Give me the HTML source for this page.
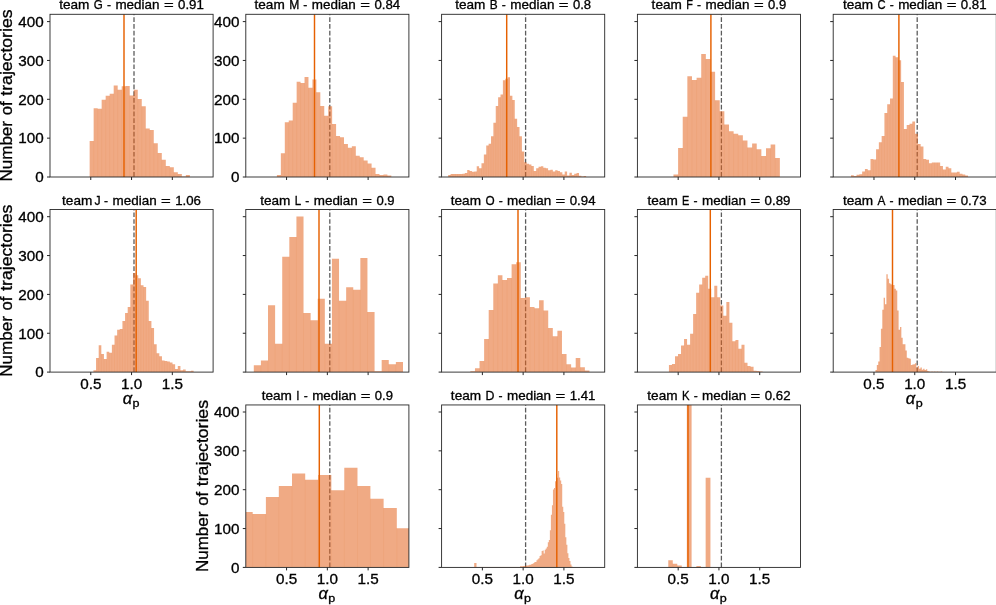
<!DOCTYPE html>
<html><head><meta charset="utf-8"><title>histograms</title>
<style>
html,body{margin:0;padding:0;background:#fff;}
body{width:996px;height:605px;overflow:hidden;font-family:"Liberation Sans",sans-serif;}
svg{display:block;will-change:transform;opacity:0.999;}
svg text{font-family:"Liberation Sans",sans-serif;fill:#000;stroke:#000;stroke-width:0.3px;}
</style></head><body>
<svg width="996" height="605" viewBox="0 0 996 605">
<rect width="996" height="605" fill="#fff"/>
<g id="pG">
<clipPath id="cG"><rect x="50.00" y="14.30" width="163.10" height="162.70"/></clipPath>
<g clip-path="url(#cG)">
<line x1="134.00" x2="134.00" y1="177.00" y2="14.30" stroke="#5c5c5c" stroke-width="1.3" stroke-dasharray="4.7 2.03" stroke-dashoffset="-0.2"/>
<path d="M89.64 177.00V140.91H93.65V177.00ZM93.65 177.00V108.18H97.65V177.00ZM97.65 177.00V108.73H101.66V177.00ZM101.66 177.00V99.64H105.67V177.00ZM105.67 177.00V95.82H109.68V177.00ZM109.68 177.00V93.64H113.69V177.00ZM113.69 177.00V85.45H117.70V177.00ZM117.70 177.00V89.64H121.71V177.00ZM121.71 177.00V86.36H125.72V177.00ZM125.72 177.00V86.00H129.73V177.00ZM129.73 177.00V95.45H133.74V177.00ZM133.74 177.00V89.64H137.75V177.00ZM137.75 177.00V99.09H141.75V177.00ZM141.75 177.00V106.36H145.76V177.00ZM145.76 177.00V128.55H149.77V177.00ZM149.77 177.00V130.00H153.78V177.00ZM153.78 177.00V143.27H157.79V177.00ZM157.79 177.00V153.09H161.80V177.00ZM161.80 177.00V159.82H165.81V177.00ZM165.81 177.00V166.00H169.82V177.00ZM169.82 177.00V167.27H173.83V177.00ZM173.83 177.00V172.18H177.84V177.00ZM177.84 177.00V174.00H181.85V177.00ZM181.85 177.00V176.55H185.85V177.00ZM185.85 177.00V175.09H189.86V177.00Z" fill="#e4641f" fill-opacity="0.55"/>
<path d="M93.65 177.00V140.91M97.65 177.00V108.73M101.66 177.00V108.73M105.67 177.00V99.64M109.68 177.00V95.82M113.69 177.00V93.64M117.70 177.00V89.64M121.71 177.00V89.64M125.72 177.00V86.36M129.73 177.00V95.45M133.74 177.00V95.45M137.75 177.00V99.09M141.75 177.00V106.36M145.76 177.00V128.55M149.77 177.00V130.00M153.78 177.00V143.27M157.79 177.00V153.09M161.80 177.00V159.82M165.81 177.00V166.00M169.82 177.00V167.27M173.83 177.00V172.18M177.84 177.00V174.00" stroke="#e66101" stroke-opacity="0.09" stroke-width="0.7" fill="none"/>
<line x1="124.00" x2="124.00" y1="14.30" y2="177.00" stroke="#e66101" stroke-width="1.45"/>
</g>
<rect x="50.00" y="14.30" width="163.10" height="162.70" fill="none" stroke="#262626" stroke-width="0.9"/>
<path d="M90.78 177.00v3M131.55 177.00v3M172.32 177.00v3M50.00 177.00h-3M50.00 138.15h-3M50.00 99.30h-3M50.00 60.45h-3M50.00 21.60h-3" stroke="#262626" stroke-width="1" fill="none"/>
<text transform="translate(131.55 9.05)" font-size="12.15"><tspan x="-72.34" textLength="30.23" lengthAdjust="spacingAndGlyphs">team</tspan><tspan x="-37.70" textLength="9.00" lengthAdjust="spacingAndGlyphs">G</tspan><tspan x="-24.59" textLength="4.03" lengthAdjust="spacingAndGlyphs">-</tspan><tspan x="-16.14" textLength="44.08" lengthAdjust="spacingAndGlyphs">median</tspan><tspan x="32.36" textLength="9.75" lengthAdjust="spacingAndGlyphs">=</tspan><tspan x="46.52" textLength="25.82" lengthAdjust="spacingAndGlyphs">0.91</tspan></text>
<text x="43.70" y="182.30" font-size="14.0" text-anchor="end" textLength="8.48" lengthAdjust="spacingAndGlyphs">0</text>
<text x="43.70" y="143.45" font-size="14.0" text-anchor="end" textLength="25.44" lengthAdjust="spacingAndGlyphs">100</text>
<text x="43.70" y="104.60" font-size="14.0" text-anchor="end" textLength="25.44" lengthAdjust="spacingAndGlyphs">200</text>
<text x="43.70" y="65.75" font-size="14.0" text-anchor="end" textLength="25.44" lengthAdjust="spacingAndGlyphs">300</text>
<text x="43.70" y="26.90" font-size="14.0" text-anchor="end" textLength="25.44" lengthAdjust="spacingAndGlyphs">400</text>
<text transform="translate(12.10 95.55) rotate(-90)" font-size="15.7"><tspan x="-86.03" textLength="60.56" lengthAdjust="spacingAndGlyphs">Number</tspan><tspan x="-19.71" textLength="13.85" lengthAdjust="spacingAndGlyphs">of</tspan><tspan x="-0.10" textLength="86.13" lengthAdjust="spacingAndGlyphs">trajectories</tspan></text>
</g>
<g id="pM">
<clipPath id="cM"><rect x="245.80" y="14.30" width="163.10" height="162.70"/></clipPath>
<g clip-path="url(#cM)">
<line x1="329.80" x2="329.80" y1="177.00" y2="14.30" stroke="#5c5c5c" stroke-width="1.3" stroke-dasharray="4.7 2.03" stroke-dashoffset="-0.2"/>
<path d="M276.91 177.00V174.91H280.85V177.00ZM280.85 177.00V153.27H284.80V177.00ZM284.80 177.00V122.36H288.75V177.00ZM288.75 177.00V120.55H292.69V177.00ZM292.69 177.00V102.73H296.64V177.00ZM296.64 177.00V81.82H300.58V177.00ZM300.58 177.00V83.09H304.53V177.00ZM304.53 177.00V76.91H308.47V177.00ZM308.47 177.00V87.82H312.42V177.00ZM312.42 177.00V79.45H316.36V177.00ZM316.36 177.00V92.18H320.31V177.00ZM320.31 177.00V106.00H324.25V177.00ZM324.25 177.00V115.82H328.20V177.00ZM328.20 177.00V106.36H332.15V177.00ZM332.15 177.00V124.00H336.09V177.00ZM336.09 177.00V136.00H340.04V177.00ZM340.04 177.00V137.27H343.98V177.00ZM343.98 177.00V144.00H347.93V177.00ZM347.93 177.00V147.82H351.87V177.00ZM351.87 177.00V146.36H355.82V177.00ZM355.82 177.00V155.82H359.76V177.00ZM359.76 177.00V157.27H363.71V177.00ZM363.71 177.00V160.55H367.65V177.00ZM367.65 177.00V163.45H371.60V177.00ZM371.60 177.00V167.82H375.55V177.00ZM375.55 177.00V174.00H379.49V177.00ZM379.49 177.00V175.09H383.44V177.00ZM383.44 177.00V174.55H387.38V177.00ZM387.38 177.00V175.45H391.33V177.00Z" fill="#e4641f" fill-opacity="0.55"/>
<path d="M280.85 177.00V174.91M284.80 177.00V153.27M288.75 177.00V122.36M292.69 177.00V120.55M296.64 177.00V102.73M300.58 177.00V83.09M304.53 177.00V83.09M308.47 177.00V87.82M312.42 177.00V87.82M316.36 177.00V92.18M320.31 177.00V106.00M324.25 177.00V115.82M328.20 177.00V115.82M332.15 177.00V124.00M336.09 177.00V136.00M340.04 177.00V137.27M343.98 177.00V144.00M347.93 177.00V147.82M351.87 177.00V147.82M355.82 177.00V155.82M359.76 177.00V157.27M363.71 177.00V160.55M367.65 177.00V163.45M371.60 177.00V167.82M375.55 177.00V174.00M379.49 177.00V175.09M383.44 177.00V175.09M387.38 177.00V175.45" stroke="#e66101" stroke-opacity="0.09" stroke-width="0.7" fill="none"/>
<line x1="314.50" x2="314.50" y1="14.30" y2="177.00" stroke="#e66101" stroke-width="1.45"/>
</g>
<rect x="245.80" y="14.30" width="163.10" height="162.70" fill="none" stroke="#262626" stroke-width="0.9"/>
<path d="M286.57 177.00v3M327.35 177.00v3M368.12 177.00v3M245.80 177.00h-3M245.80 138.15h-3M245.80 99.30h-3M245.80 60.45h-3M245.80 21.60h-3" stroke="#262626" stroke-width="1" fill="none"/>
<text transform="translate(327.35 9.05)" font-size="12.15"><tspan x="-72.87" textLength="30.23" lengthAdjust="spacingAndGlyphs">team</tspan><tspan x="-38.22" textLength="10.05" lengthAdjust="spacingAndGlyphs">M</tspan><tspan x="-24.06" textLength="4.03" lengthAdjust="spacingAndGlyphs">-</tspan><tspan x="-15.61" textLength="44.08" lengthAdjust="spacingAndGlyphs">median</tspan><tspan x="32.88" textLength="9.75" lengthAdjust="spacingAndGlyphs">=</tspan><tspan x="47.05" textLength="25.82" lengthAdjust="spacingAndGlyphs">0.84</tspan></text>
<text x="239.50" y="182.30" font-size="14.0" text-anchor="end" textLength="8.48" lengthAdjust="spacingAndGlyphs">0</text>
<text x="239.50" y="143.45" font-size="14.0" text-anchor="end" textLength="25.44" lengthAdjust="spacingAndGlyphs">100</text>
<text x="239.50" y="104.60" font-size="14.0" text-anchor="end" textLength="25.44" lengthAdjust="spacingAndGlyphs">200</text>
<text x="239.50" y="65.75" font-size="14.0" text-anchor="end" textLength="25.44" lengthAdjust="spacingAndGlyphs">300</text>
<text x="239.50" y="26.90" font-size="14.0" text-anchor="end" textLength="25.44" lengthAdjust="spacingAndGlyphs">400</text>
</g>
<g id="pB">
<clipPath id="cB"><rect x="441.60" y="14.30" width="163.10" height="162.70"/></clipPath>
<g clip-path="url(#cB)">
<line x1="525.60" x2="525.60" y1="177.00" y2="14.30" stroke="#5c5c5c" stroke-width="1.3" stroke-dasharray="4.7 2.03" stroke-dashoffset="-0.2"/>
<path d="M448.18 177.00V175.09H450.56V177.00ZM450.56 177.00V174.00H452.94V177.00ZM452.94 177.00V174.00H455.32V177.00ZM455.32 177.00V174.00H457.69V177.00ZM457.69 177.00V174.00H460.07V177.00ZM460.07 177.00V174.00H462.45V177.00ZM462.45 177.00V173.64H464.83V177.00ZM464.83 177.00V172.91H467.21V177.00ZM467.21 177.00V170.00H469.59V177.00ZM469.59 177.00V170.91H471.96V177.00ZM471.96 177.00V171.82H474.34V177.00ZM474.34 177.00V171.45H476.72V177.00ZM476.72 177.00V166.36H479.10V177.00ZM479.10 177.00V168.18H481.48V177.00ZM481.48 177.00V163.27H483.85V177.00ZM483.85 177.00V154.55H486.23V177.00ZM486.23 177.00V145.45H488.61V177.00ZM488.61 177.00V143.64H490.99V177.00ZM490.99 177.00V136.36H493.37V177.00ZM493.37 177.00V122.73H495.75V177.00ZM495.75 177.00V106.00H498.12V177.00ZM498.12 177.00V97.27H500.50V177.00ZM500.50 177.00V94.55H502.88V177.00ZM502.88 177.00V80.36H505.26V177.00ZM505.26 177.00V78.73H507.64V177.00ZM507.64 177.00V77.27H510.01V177.00ZM510.01 177.00V95.82H512.39V177.00ZM512.39 177.00V100.00H514.77V177.00ZM514.77 177.00V118.73H517.15V177.00ZM517.15 177.00V126.91H519.53V177.00ZM519.53 177.00V136.36H521.91V177.00ZM521.91 177.00V151.45H524.28V177.00ZM524.28 177.00V162.36H526.66V177.00ZM526.66 177.00V163.64H529.04V177.00ZM529.04 177.00V164.55H531.42V177.00ZM531.42 177.00V166.00H533.80V177.00ZM533.80 177.00V170.91H536.17V177.00ZM536.17 177.00V168.18H538.55V177.00ZM538.55 177.00V166.73H540.93V177.00ZM540.93 177.00V166.36H543.31V177.00ZM543.31 177.00V167.82H545.69V177.00ZM545.69 177.00V168.18H548.07V177.00ZM548.07 177.00V170.36H550.44V177.00ZM550.44 177.00V169.64H552.82V177.00ZM552.82 177.00V171.45H555.20V177.00ZM555.20 177.00V170.36H557.58V177.00ZM557.58 177.00V170.91H559.96V177.00ZM559.96 177.00V172.18H562.33V177.00ZM562.33 177.00V174.55H564.71V177.00ZM564.71 177.00V171.45H567.09V177.00ZM567.09 177.00V175.45H569.47V177.00ZM569.47 177.00V172.73H571.85V177.00ZM571.85 177.00V175.09H574.23V177.00ZM574.23 177.00V173.64H576.60V177.00ZM576.60 177.00V173.09H578.98V177.00ZM578.98 177.00V175.82H581.36V177.00ZM581.36 177.00V176.55H583.74V177.00ZM583.74 177.00V176.00H586.12V177.00Z" fill="#e4641f" fill-opacity="0.55"/>
<path d="M450.56 177.00V175.09M452.94 177.00V174.00M455.32 177.00V174.00M457.69 177.00V174.00M460.07 177.00V174.00M462.45 177.00V174.00M464.83 177.00V173.64M467.21 177.00V172.91M469.59 177.00V170.91M471.96 177.00V171.82M474.34 177.00V171.82M476.72 177.00V171.45M479.10 177.00V168.18M481.48 177.00V168.18M483.85 177.00V163.27M486.23 177.00V154.55M488.61 177.00V145.45M490.99 177.00V143.64M493.37 177.00V136.36M495.75 177.00V122.73M498.12 177.00V106.00M500.50 177.00V97.27M502.88 177.00V94.55M505.26 177.00V80.36M507.64 177.00V78.73M510.01 177.00V95.82M512.39 177.00V100.00M514.77 177.00V118.73M517.15 177.00V126.91M519.53 177.00V136.36M521.91 177.00V151.45M524.28 177.00V162.36M526.66 177.00V163.64M529.04 177.00V164.55M531.42 177.00V166.00M533.80 177.00V170.91M536.17 177.00V170.91M538.55 177.00V168.18M540.93 177.00V166.73M543.31 177.00V167.82M545.69 177.00V168.18M548.07 177.00V170.36M550.44 177.00V170.36M552.82 177.00V171.45M555.20 177.00V171.45M557.58 177.00V170.91M559.96 177.00V172.18M562.33 177.00V174.55M564.71 177.00V174.55M567.09 177.00V175.45M569.47 177.00V175.45M571.85 177.00V175.09M574.23 177.00V175.09M576.60 177.00V173.64M578.98 177.00V175.82" stroke="#e66101" stroke-opacity="0.09" stroke-width="0.7" fill="none"/>
<line x1="506.70" x2="506.70" y1="14.30" y2="177.00" stroke="#e66101" stroke-width="1.45"/>
</g>
<rect x="441.60" y="14.30" width="163.10" height="162.70" fill="none" stroke="#262626" stroke-width="0.9"/>
<path d="M482.38 177.00v3M523.15 177.00v3M563.92 177.00v3M441.60 177.00h-3M441.60 138.15h-3M441.60 99.30h-3M441.60 60.45h-3M441.60 21.60h-3" stroke="#262626" stroke-width="1" fill="none"/>
<text transform="translate(523.15 9.05)" font-size="12.15"><tspan x="-67.99" textLength="30.23" lengthAdjust="spacingAndGlyphs">team</tspan><tspan x="-33.35" textLength="7.93" lengthAdjust="spacingAndGlyphs">B</tspan><tspan x="-21.30" textLength="4.03" lengthAdjust="spacingAndGlyphs">-</tspan><tspan x="-12.86" textLength="44.08" lengthAdjust="spacingAndGlyphs">median</tspan><tspan x="35.64" textLength="9.75" lengthAdjust="spacingAndGlyphs">=</tspan><tspan x="49.81" textLength="18.18" lengthAdjust="spacingAndGlyphs">0.8</tspan></text>
</g>
<g id="pF">
<clipPath id="cF"><rect x="637.40" y="14.30" width="163.10" height="162.70"/></clipPath>
<g clip-path="url(#cF)">
<line x1="721.40" x2="721.40" y1="177.00" y2="14.30" stroke="#5c5c5c" stroke-width="1.3" stroke-dasharray="4.7 2.03" stroke-dashoffset="-0.2"/>
<path d="M673.47 177.00V174.61H678.10V177.00ZM678.10 177.00V148.01H682.72V177.00ZM682.72 177.00V116.79H687.35V177.00ZM687.35 177.00V76.31H691.97V177.00ZM691.97 177.00V80.01H696.60V177.00ZM696.60 177.00V77.70H701.22V177.00ZM701.22 177.00V53.88H705.85V177.00ZM705.85 177.00V58.97H710.48V177.00ZM710.48 177.00V71.69H715.10V177.00ZM715.10 177.00V100.14H719.73V177.00ZM719.73 177.00V111.24H724.35V177.00ZM724.35 177.00V124.42H728.98V177.00ZM728.98 177.00V131.36H733.61V177.00ZM733.61 177.00V133.67H738.23V177.00ZM738.23 177.00V135.29H742.86V177.00ZM742.86 177.00V140.61H747.48V177.00ZM747.48 177.00V147.55H752.11V177.00ZM752.11 177.00V143.62H756.74V177.00ZM756.74 177.00V149.17H761.36V177.00ZM761.36 177.00V156.11H765.99V177.00ZM765.99 177.00V148.25H770.61V177.00ZM770.61 177.00V144.54H775.24V177.00ZM775.24 177.00V157.96H779.86V177.00Z" fill="#e4641f" fill-opacity="0.55"/>
<path d="M678.10 177.00V174.61M682.72 177.00V148.01M687.35 177.00V116.79M691.97 177.00V80.01M696.60 177.00V80.01M701.22 177.00V77.70M705.85 177.00V58.97M710.48 177.00V71.69M715.10 177.00V100.14M719.73 177.00V111.24M724.35 177.00V124.42M728.98 177.00V131.36M733.61 177.00V133.67M738.23 177.00V135.29M742.86 177.00V140.61M747.48 177.00V147.55M752.11 177.00V147.55M756.74 177.00V149.17M761.36 177.00V156.11M765.99 177.00V156.11M770.61 177.00V148.25M775.24 177.00V157.96" stroke="#e66101" stroke-opacity="0.09" stroke-width="0.7" fill="none"/>
<line x1="710.90" x2="710.90" y1="14.30" y2="177.00" stroke="#e66101" stroke-width="1.45"/>
</g>
<rect x="637.40" y="14.30" width="163.10" height="162.70" fill="none" stroke="#262626" stroke-width="0.9"/>
<path d="M678.18 177.00v3M718.95 177.00v3M759.73 177.00v3M637.40 177.00h-3M637.40 138.15h-3M637.40 99.30h-3M637.40 60.45h-3M637.40 21.60h-3" stroke="#262626" stroke-width="1" fill="none"/>
<text transform="translate(718.95 9.05)" font-size="12.15"><tspan x="-67.33" textLength="30.23" lengthAdjust="spacingAndGlyphs">team</tspan><tspan x="-32.68" textLength="6.60" lengthAdjust="spacingAndGlyphs">F</tspan><tspan x="-21.97" textLength="4.03" lengthAdjust="spacingAndGlyphs">-</tspan><tspan x="-13.52" textLength="44.08" lengthAdjust="spacingAndGlyphs">median</tspan><tspan x="34.98" textLength="9.75" lengthAdjust="spacingAndGlyphs">=</tspan><tspan x="49.14" textLength="18.18" lengthAdjust="spacingAndGlyphs">0.9</tspan></text>
</g>
<g id="pC">
<clipPath id="cC"><rect x="833.20" y="14.30" width="163.10" height="162.70"/></clipPath>
<g clip-path="url(#cC)">
<line x1="917.20" x2="917.20" y1="177.00" y2="14.30" stroke="#5c5c5c" stroke-width="1.3" stroke-dasharray="4.7 2.03" stroke-dashoffset="-0.2"/>
<path d="M850.98 177.00V175.31H853.77V177.00ZM853.77 177.00V176.00H856.55V177.00ZM856.55 177.00V174.84H859.34V177.00ZM859.34 177.00V174.15H862.13V177.00ZM862.13 177.00V171.38H864.92V177.00ZM864.92 177.00V169.06H867.70V177.00ZM867.70 177.00V170.22H870.49V177.00ZM870.49 177.00V159.12H873.28V177.00ZM873.28 177.00V159.58H876.06V177.00ZM876.06 177.00V149.17H878.85V177.00ZM878.85 177.00V142.23H881.64V177.00ZM881.64 177.00V135.99H884.42V177.00ZM884.42 177.00V113.09H887.21V177.00ZM887.21 177.00V104.30H890.00V177.00ZM890.00 177.00V98.52H892.79V177.00ZM892.79 177.00V55.73H895.57V177.00ZM895.57 177.00V57.35H898.36V177.00ZM898.36 177.00V60.35H901.15V177.00ZM901.15 177.00V82.10H903.93V177.00ZM903.93 177.00V129.05H906.72V177.00ZM906.72 177.00V125.12H909.51V177.00ZM909.51 177.00V123.73H912.30V177.00ZM912.30 177.00V121.42H915.08V177.00ZM915.08 177.00V133.67H917.87V177.00ZM917.87 177.00V144.08H920.66V177.00ZM920.66 177.00V146.40H923.44V177.00ZM923.44 177.00V159.12H926.23V177.00ZM926.23 177.00V159.81H929.02V177.00ZM929.02 177.00V163.28H931.81V177.00ZM931.81 177.00V162.59H934.59V177.00ZM934.59 177.00V162.59H937.38V177.00ZM937.38 177.00V162.59H940.17V177.00ZM940.17 177.00V166.06H942.95V177.00ZM942.95 177.00V169.52H945.74V177.00ZM945.74 177.00V166.75H948.53V177.00ZM948.53 177.00V168.37H951.32V177.00ZM951.32 177.00V172.53H954.10V177.00ZM954.10 177.00V172.53H956.89V177.00ZM956.89 177.00V171.84H959.68V177.00ZM959.68 177.00V173.69H962.46V177.00ZM962.46 177.00V174.61H965.25V177.00ZM965.25 177.00V175.54H968.04V177.00Z" fill="#e4641f" fill-opacity="0.55"/>
<path d="M859.34 177.00V174.84M862.13 177.00V174.15M864.92 177.00V171.38M867.70 177.00V170.22M870.49 177.00V170.22M873.28 177.00V159.58M876.06 177.00V159.58M878.85 177.00V149.17M881.64 177.00V142.23M884.42 177.00V135.99M887.21 177.00V113.09M890.00 177.00V104.30M892.79 177.00V98.52M895.57 177.00V57.35M898.36 177.00V60.35M901.15 177.00V82.10M903.93 177.00V129.05M906.72 177.00V129.05M909.51 177.00V125.12M912.30 177.00V123.73M915.08 177.00V133.67M917.87 177.00V144.08M920.66 177.00V146.40M923.44 177.00V159.12M926.23 177.00V159.81M929.02 177.00V163.28M931.81 177.00V163.28M934.59 177.00V162.59M937.38 177.00V162.59M940.17 177.00V166.06M942.95 177.00V169.52M945.74 177.00V169.52M948.53 177.00V168.37M951.32 177.00V172.53M954.10 177.00V172.53M956.89 177.00V172.53M959.68 177.00V173.69M962.46 177.00V174.61M965.25 177.00V175.54" stroke="#e66101" stroke-opacity="0.09" stroke-width="0.7" fill="none"/>
<line x1="898.90" x2="898.90" y1="14.30" y2="177.00" stroke="#e66101" stroke-width="1.45"/>
</g>
<rect x="833.20" y="14.30" width="163.10" height="162.70" fill="none" stroke="#262626" stroke-width="0.9"/>
<path d="M873.98 177.00v3M914.75 177.00v3M955.53 177.00v3M833.20 177.00h-3M833.20 138.15h-3M833.20 99.30h-3M833.20 60.45h-3M833.20 21.60h-3" stroke="#262626" stroke-width="1" fill="none"/>
<text transform="translate(914.75 9.05)" font-size="12.15"><tspan x="-71.88" textLength="30.23" lengthAdjust="spacingAndGlyphs">team</tspan><tspan x="-37.24" textLength="8.08" lengthAdjust="spacingAndGlyphs">C</tspan><tspan x="-25.04" textLength="4.03" lengthAdjust="spacingAndGlyphs">-</tspan><tspan x="-16.60" textLength="44.08" lengthAdjust="spacingAndGlyphs">median</tspan><tspan x="31.90" textLength="9.75" lengthAdjust="spacingAndGlyphs">=</tspan><tspan x="46.06" textLength="25.82" lengthAdjust="spacingAndGlyphs">0.81</tspan></text>
</g>
<g id="pJ">
<clipPath id="cJ"><rect x="50.00" y="209.50" width="163.10" height="162.60"/></clipPath>
<g clip-path="url(#cJ)">
<line x1="134.00" x2="134.00" y1="372.10" y2="209.50" stroke="#5c5c5c" stroke-width="1.3" stroke-dasharray="4.7 2.03" stroke-dashoffset="-0.2"/>
<path d="M93.42 372.10V370.15H96.05V372.10ZM96.05 372.10V357.89H98.69V372.10ZM98.69 372.10V345.17H101.33V372.10ZM101.33 372.10V353.96H103.96V372.10ZM103.96 372.10V359.05H106.60V372.10ZM106.60 372.10V351.65H109.24V372.10ZM109.24 372.10V352.80H111.87V372.10ZM111.87 372.10V344.71H114.51V372.10ZM114.51 372.10V335.46H117.15V372.10ZM117.15 372.10V329.67H119.78V372.10ZM119.78 372.10V328.98H122.42V372.10ZM122.42 372.10V321.12H125.06V372.10ZM125.06 372.10V313.02H127.69V372.10ZM127.69 372.10V307.01H130.33V372.10ZM130.33 372.10V284.57H132.97V372.10ZM132.97 372.10V273.01H135.60V372.10ZM135.60 372.10V275.32H138.24V372.10ZM138.24 372.10V278.33H140.88V372.10ZM140.88 372.10V285.27H143.51V372.10ZM143.51 372.10V286.88H146.15V372.10ZM146.15 372.10V300.76H148.79V372.10ZM148.79 372.10V321.12H151.42V372.10ZM151.42 372.10V328.06H154.06V372.10ZM154.06 372.10V344.25H156.70V372.10ZM156.70 372.10V353.27H159.33V372.10ZM159.33 372.10V356.27H161.97V372.10ZM161.97 372.10V360.44H164.61V372.10ZM164.61 372.10V360.90H167.24V372.10ZM167.24 372.10V361.59H169.88V372.10ZM169.88 372.10V362.52H172.52V372.10ZM172.52 372.10V364.37H175.15V372.10ZM175.15 372.10V368.99H177.79V372.10ZM177.79 372.10V365.99H180.43V372.10ZM180.43 372.10V370.15H183.06V372.10ZM183.06 372.10V369.46H185.70V372.10ZM185.70 372.10V371.31H188.34V372.10ZM188.34 372.10V371.31H190.98V372.10ZM190.98 372.10V370.84H193.61V372.10Z" fill="#e4641f" fill-opacity="0.55"/>
<path d="M96.05 372.10V370.15M98.69 372.10V357.89M101.33 372.10V353.96M103.96 372.10V359.05M106.60 372.10V359.05M109.24 372.10V352.80M111.87 372.10V352.80M114.51 372.10V344.71M117.15 372.10V335.46M119.78 372.10V329.67M122.42 372.10V328.98M125.06 372.10V321.12M127.69 372.10V313.02M130.33 372.10V307.01M132.97 372.10V284.57M135.60 372.10V275.32M138.24 372.10V278.33M140.88 372.10V285.27M143.51 372.10V286.88M146.15 372.10V300.76M148.79 372.10V321.12M151.42 372.10V328.06M154.06 372.10V344.25M156.70 372.10V353.27M159.33 372.10V356.27M161.97 372.10V360.44M164.61 372.10V360.90M167.24 372.10V361.59M169.88 372.10V362.52M172.52 372.10V364.37M175.15 372.10V368.99M177.79 372.10V368.99M180.43 372.10V370.15M183.06 372.10V370.15" stroke="#e66101" stroke-opacity="0.09" stroke-width="0.7" fill="none"/>
<line x1="136.20" x2="136.20" y1="209.50" y2="372.10" stroke="#e66101" stroke-width="1.45"/>
</g>
<rect x="50.00" y="209.50" width="163.10" height="162.60" fill="none" stroke="#262626" stroke-width="0.9"/>
<path d="M90.78 372.10v3M131.55 372.10v3M172.32 372.10v3M50.00 372.10h-3M50.00 333.25h-3M50.00 294.40h-3M50.00 255.55h-3M50.00 216.70h-3" stroke="#262626" stroke-width="1" fill="none"/>
<text transform="translate(131.55 204.75)" font-size="12.15"><tspan x="-69.46" textLength="30.23" lengthAdjust="spacingAndGlyphs">team</tspan><tspan x="-37.14">J</tspan><tspan x="-27.46" textLength="4.03" lengthAdjust="spacingAndGlyphs">-</tspan><tspan x="-19.02" textLength="44.08" lengthAdjust="spacingAndGlyphs">median</tspan><tspan x="29.48" textLength="9.75" lengthAdjust="spacingAndGlyphs">=</tspan><tspan x="43.64" textLength="25.82" lengthAdjust="spacingAndGlyphs">1.06</tspan></text>
<text x="43.70" y="377.40" font-size="14.0" text-anchor="end" textLength="8.48" lengthAdjust="spacingAndGlyphs">0</text>
<text x="43.70" y="338.55" font-size="14.0" text-anchor="end" textLength="25.44" lengthAdjust="spacingAndGlyphs">100</text>
<text x="43.70" y="299.70" font-size="14.0" text-anchor="end" textLength="25.44" lengthAdjust="spacingAndGlyphs">200</text>
<text x="43.70" y="260.85" font-size="14.0" text-anchor="end" textLength="25.44" lengthAdjust="spacingAndGlyphs">300</text>
<text x="43.70" y="222.00" font-size="14.0" text-anchor="end" textLength="25.44" lengthAdjust="spacingAndGlyphs">400</text>
<text transform="translate(12.10 290.70) rotate(-90)" font-size="15.7"><tspan x="-86.03" textLength="60.56" lengthAdjust="spacingAndGlyphs">Number</tspan><tspan x="-19.71" textLength="13.85" lengthAdjust="spacingAndGlyphs">of</tspan><tspan x="-0.10" textLength="86.13" lengthAdjust="spacingAndGlyphs">trajectories</tspan></text>
<text x="90.78" y="389.10" font-size="14.0" text-anchor="middle" textLength="21.20" lengthAdjust="spacingAndGlyphs">0.5</text>
<text x="131.55" y="389.10" font-size="14.0" text-anchor="middle" textLength="21.20" lengthAdjust="spacingAndGlyphs">1.0</text>
<text x="172.32" y="389.10" font-size="14.0" text-anchor="middle" textLength="21.20" lengthAdjust="spacingAndGlyphs">1.5</text>
<text x="122.65" y="403.90" font-size="16.5" font-style="italic" textLength="9.4" lengthAdjust="spacingAndGlyphs">α</text>
<text x="132.45" y="407.10" font-size="11.2" textLength="7.0" lengthAdjust="spacingAndGlyphs">p</text>
</g>
<g id="pL">
<clipPath id="cL"><rect x="245.80" y="209.50" width="163.10" height="162.60"/></clipPath>
<g clip-path="url(#cL)">
<line x1="329.80" x2="329.80" y1="372.10" y2="209.50" stroke="#5c5c5c" stroke-width="1.3" stroke-dasharray="4.7 2.03" stroke-dashoffset="-0.2"/>
<path d="M253.80 372.10V365.32H260.91V372.10ZM260.91 372.10V360.55H268.01V372.10ZM268.01 372.10V305.19H275.11V372.10ZM275.11 372.10V343.69H282.22V372.10ZM282.22 372.10V256.86H289.32V372.10ZM289.32 372.10V236.91H296.42V372.10ZM296.42 372.10V216.40H303.53V372.10ZM303.53 372.10V313.06H310.63V372.10ZM310.63 372.10V320.36H317.73V372.10ZM317.73 372.10V298.73H324.84V372.10ZM324.84 372.10V343.69H331.94V372.10ZM331.94 372.10V258.83H339.04V372.10ZM339.04 372.10V300.69H346.15V372.10ZM346.15 372.10V287.21H353.25V372.10ZM353.25 372.10V289.74H360.35V372.10ZM360.35 372.10V257.98H367.46V372.10ZM367.46 372.10V311.93H374.56V372.10ZM374.56 372.10V371.22H381.67V372.10ZM381.67 372.10V359.98H388.77V372.10ZM388.77 372.10V364.20H395.87V372.10ZM395.87 372.10V361.95H402.98V372.10Z" fill="#e4641f" fill-opacity="0.55"/>
<path d="M260.91 372.10V365.32M268.01 372.10V360.55M275.11 372.10V343.69M282.22 372.10V343.69M289.32 372.10V256.86M296.42 372.10V236.91M303.53 372.10V313.06M310.63 372.10V320.36M317.73 372.10V320.36M324.84 372.10V343.69M331.94 372.10V343.69M339.04 372.10V300.69M346.15 372.10V300.69M353.25 372.10V289.74M360.35 372.10V289.74M367.46 372.10V311.93M388.77 372.10V364.20M395.87 372.10V364.20" stroke="#e66101" stroke-opacity="0.09" stroke-width="0.7" fill="none"/>
<line x1="319.00" x2="319.00" y1="209.50" y2="372.10" stroke="#e66101" stroke-width="1.45"/>
</g>
<rect x="245.80" y="209.50" width="163.10" height="162.60" fill="none" stroke="#262626" stroke-width="0.9"/>
<path d="M286.57 372.10v3M327.35 372.10v3M368.12 372.10v3M245.80 372.10h-3M245.80 333.25h-3M245.80 294.40h-3M245.80 255.55h-3M245.80 216.70h-3" stroke="#262626" stroke-width="1" fill="none"/>
<text transform="translate(327.35 204.75)" font-size="12.15"><tspan x="-67.22" textLength="30.23" lengthAdjust="spacingAndGlyphs">team</tspan><tspan x="-32.57" textLength="6.39" lengthAdjust="spacingAndGlyphs">L</tspan><tspan x="-22.07" textLength="4.03" lengthAdjust="spacingAndGlyphs">-</tspan><tspan x="-13.63" textLength="44.08" lengthAdjust="spacingAndGlyphs">median</tspan><tspan x="34.87" textLength="9.75" lengthAdjust="spacingAndGlyphs">=</tspan><tspan x="49.04" textLength="18.18" lengthAdjust="spacingAndGlyphs">0.9</tspan></text>
</g>
<g id="pO">
<clipPath id="cO"><rect x="441.60" y="209.50" width="163.10" height="162.60"/></clipPath>
<g clip-path="url(#cO)">
<line x1="525.60" x2="525.60" y1="372.10" y2="209.50" stroke="#5c5c5c" stroke-width="1.3" stroke-dasharray="4.7 2.03" stroke-dashoffset="-0.2"/>
<path d="M470.38 372.10V371.31H474.96V372.10ZM474.96 372.10V368.30H479.54V372.10ZM479.54 372.10V360.90H484.12V372.10ZM484.12 372.10V338.93H488.70V372.10ZM488.70 372.10V310.01H493.28V372.10ZM493.28 372.10V283.42H497.86V372.10ZM497.86 372.10V275.32H502.44V372.10ZM502.44 372.10V279.95H507.02V372.10ZM507.02 372.10V278.10H511.60V372.10ZM511.60 372.10V264.22H516.18V372.10ZM516.18 372.10V262.14H520.76V372.10ZM520.76 372.10V297.99H525.34V372.10ZM525.34 372.10V297.29H529.92V372.10ZM529.92 372.10V307.01H534.50V372.10ZM534.50 372.10V308.16H539.08V372.10ZM539.08 372.10V300.30H543.66V372.10ZM543.66 372.10V310.48H548.23V372.10ZM548.23 372.10V328.06H552.81V372.10ZM552.81 372.10V336.15H557.39V372.10ZM557.39 372.10V330.83H561.97V372.10ZM561.97 372.10V353.96H566.55V372.10ZM566.55 372.10V364.37H571.13V372.10ZM571.13 372.10V367.38H575.71V372.10ZM575.71 372.10V358.12H580.29V372.10ZM580.29 372.10V367.14H584.87V372.10ZM584.87 372.10V370.61H589.45V372.10Z" fill="#e4641f" fill-opacity="0.55"/>
<path d="M479.54 372.10V368.30M484.12 372.10V360.90M488.70 372.10V338.93M493.28 372.10V310.01M497.86 372.10V283.42M502.44 372.10V279.95M507.02 372.10V279.95M511.60 372.10V278.10M516.18 372.10V264.22M520.76 372.10V297.99M525.34 372.10V297.99M529.92 372.10V307.01M534.50 372.10V308.16M539.08 372.10V308.16M543.66 372.10V310.48M548.23 372.10V328.06M552.81 372.10V336.15M557.39 372.10V336.15M561.97 372.10V353.96M566.55 372.10V364.37M571.13 372.10V367.38M575.71 372.10V367.38M580.29 372.10V367.14M584.87 372.10V370.61" stroke="#e66101" stroke-opacity="0.09" stroke-width="0.7" fill="none"/>
<line x1="518.00" x2="518.00" y1="209.50" y2="372.10" stroke="#e66101" stroke-width="1.45"/>
</g>
<rect x="441.60" y="209.50" width="163.10" height="162.60" fill="none" stroke="#262626" stroke-width="0.9"/>
<path d="M482.38 372.10v3M523.15 372.10v3M563.92 372.10v3M441.60 372.10h-3M441.60 333.25h-3M441.60 294.40h-3M441.60 255.55h-3M441.60 216.70h-3" stroke="#262626" stroke-width="1" fill="none"/>
<text transform="translate(523.15 204.75)" font-size="12.15"><tspan x="-72.41" textLength="30.23" lengthAdjust="spacingAndGlyphs">team</tspan><tspan x="-37.77" textLength="9.15" lengthAdjust="spacingAndGlyphs">O</tspan><tspan x="-24.51" textLength="4.03" lengthAdjust="spacingAndGlyphs">-</tspan><tspan x="-16.07" textLength="44.08" lengthAdjust="spacingAndGlyphs">median</tspan><tspan x="32.43" textLength="9.75" lengthAdjust="spacingAndGlyphs">=</tspan><tspan x="46.60" textLength="25.82" lengthAdjust="spacingAndGlyphs">0.94</tspan></text>
</g>
<g id="pE">
<clipPath id="cE"><rect x="637.40" y="209.50" width="163.10" height="162.60"/></clipPath>
<g clip-path="url(#cE)">
<line x1="721.40" x2="721.40" y1="372.10" y2="209.50" stroke="#5c5c5c" stroke-width="1.3" stroke-dasharray="4.7 2.03" stroke-dashoffset="-0.2"/>
<path d="M668.93 372.10V365.06H671.95V372.10ZM671.95 372.10V363.91H674.97V372.10ZM674.97 372.10V356.27H677.99V372.10ZM677.99 372.10V353.96H681.02V372.10ZM681.02 372.10V345.40H684.04V372.10ZM684.04 372.10V338.93H687.06V372.10ZM687.06 372.10V344.71H690.09V372.10ZM690.09 372.10V333.84H693.11V372.10ZM693.11 372.10V313.95H696.13V372.10ZM696.13 372.10V292.67H699.16V372.10ZM699.16 372.10V284.57H702.18V372.10ZM702.18 372.10V277.63H705.20V372.10ZM705.20 372.10V275.78H708.22V372.10ZM708.22 372.10V288.74H711.25V372.10ZM711.25 372.10V297.29H714.27V372.10ZM714.27 372.10V285.73H717.29V372.10ZM717.29 372.10V297.29H720.32V372.10ZM720.32 372.10V305.39H723.34V372.10ZM723.34 372.10V315.80H726.36V372.10ZM726.36 372.10V301.92H729.39V372.10ZM729.39 372.10V322.74H732.41V372.10ZM732.41 372.10V341.24H735.43V372.10ZM735.43 372.10V340.08H738.45V372.10ZM738.45 372.10V348.87H741.48V372.10ZM741.48 372.10V344.71H744.50V372.10ZM744.50 372.10V362.75H747.52V372.10ZM747.52 372.10V365.99H750.55V372.10ZM750.55 372.10V366.68H753.57V372.10ZM753.57 372.10V370.84H756.59V372.10ZM756.59 372.10V371.08H759.62V372.10ZM759.62 372.10V371.54H762.64V372.10Z" fill="#e4641f" fill-opacity="0.55"/>
<path d="M671.95 372.10V365.06M674.97 372.10V363.91M677.99 372.10V356.27M681.02 372.10V353.96M684.04 372.10V345.40M687.06 372.10V344.71M690.09 372.10V344.71M693.11 372.10V333.84M696.13 372.10V313.95M699.16 372.10V292.67M702.18 372.10V284.57M705.20 372.10V277.63M708.22 372.10V288.74M711.25 372.10V297.29M714.27 372.10V297.29M717.29 372.10V297.29M720.32 372.10V305.39M723.34 372.10V315.80M726.36 372.10V315.80M729.39 372.10V322.74M732.41 372.10V341.24M735.43 372.10V341.24M738.45 372.10V348.87M741.48 372.10V348.87M744.50 372.10V362.75M747.52 372.10V365.99M750.55 372.10V366.68M753.57 372.10V370.84M756.59 372.10V371.08" stroke="#e66101" stroke-opacity="0.09" stroke-width="0.7" fill="none"/>
<line x1="710.30" x2="710.30" y1="209.50" y2="372.10" stroke="#e66101" stroke-width="1.45"/>
</g>
<rect x="637.40" y="209.50" width="163.10" height="162.60" fill="none" stroke="#262626" stroke-width="0.9"/>
<path d="M678.18 372.10v3M718.95 372.10v3M759.73 372.10v3M637.40 372.10h-3M637.40 333.25h-3M637.40 294.40h-3M637.40 255.55h-3M637.40 216.70h-3" stroke="#262626" stroke-width="1" fill="none"/>
<text transform="translate(718.95 204.75)" font-size="12.15"><tspan x="-71.48" textLength="30.23" lengthAdjust="spacingAndGlyphs">team</tspan><tspan x="-36.84" textLength="7.28" lengthAdjust="spacingAndGlyphs">E</tspan><tspan x="-25.44" textLength="4.03" lengthAdjust="spacingAndGlyphs">-</tspan><tspan x="-17.00" textLength="44.08" lengthAdjust="spacingAndGlyphs">median</tspan><tspan x="31.50" textLength="9.75" lengthAdjust="spacingAndGlyphs">=</tspan><tspan x="45.67" textLength="25.82" lengthAdjust="spacingAndGlyphs">0.89</tspan></text>
</g>
<g id="pA">
<clipPath id="cA"><rect x="833.20" y="209.50" width="163.10" height="162.60"/></clipPath>
<g clip-path="url(#cA)">
<line x1="917.20" x2="917.20" y1="372.10" y2="209.50" stroke="#5c5c5c" stroke-width="1.3" stroke-dasharray="4.7 2.03" stroke-dashoffset="-0.2"/>
<path d="M875.45 372.10V370.00H876.82V372.10ZM876.82 372.10V365.09H878.18V372.10ZM878.18 372.10V361.45H879.55V372.10ZM879.55 372.10V346.91H880.91V372.10ZM880.91 372.10V328.73H882.27V372.10ZM882.27 372.10V309.64H883.64V372.10ZM883.64 372.10V297.82H885.00V372.10ZM885.00 372.10V304.18H886.36V372.10ZM886.36 372.10V274.18H887.73V372.10ZM887.73 372.10V278.73H889.09V372.10ZM889.09 372.10V283.27H890.45V372.10ZM890.45 372.10V284.18H891.82V372.10ZM891.82 372.10V285.09H893.18V372.10ZM893.18 372.10V285.09H894.55V372.10ZM894.55 372.10V288.73H895.91V372.10ZM895.91 372.10V290.55H897.27V372.10ZM897.27 372.10V310.55H898.64V372.10ZM898.64 372.10V329.64H900.00V372.10ZM900.00 372.10V326.91H901.36V372.10ZM901.36 372.10V337.82H902.73V372.10ZM902.73 372.10V344.18H904.09V372.10ZM904.09 372.10V344.18H905.45V372.10ZM905.45 372.10V350.55H906.82V372.10ZM906.82 372.10V357.82H908.18V372.10ZM908.18 372.10V358.36H909.55V372.10ZM909.55 372.10V358.73H910.91V372.10ZM910.91 372.10V365.09H912.27V372.10ZM912.27 372.10V364.55H913.64V372.10ZM913.64 372.10V364.18H915.00V372.10ZM915.00 372.10V363.27H916.36V372.10ZM916.36 372.10V367.82H917.73V372.10ZM917.73 372.10V366.00H919.09V372.10ZM919.09 372.10V368.73H920.45V372.10ZM920.45 372.10V367.45H921.82V372.10ZM921.82 372.10V369.64H923.18V372.10ZM923.18 372.10V368.73H924.55V372.10ZM924.55 372.10V370.00H925.91V372.10ZM925.91 372.10V369.27H927.27V372.10ZM927.27 372.10V371.09H928.64V372.10ZM928.64 372.10V371.45H930.00V372.10ZM930.00 372.10V371.64H931.36V372.10ZM931.36 372.10V371.45H932.73V372.10ZM932.73 372.10V371.64H934.09V372.10ZM934.09 372.10V371.45H935.45V372.10ZM935.45 372.10V371.82H936.82V372.10ZM936.82 372.10V371.45H938.18V372.10ZM938.18 372.10V371.82H939.55V372.10ZM939.55 372.10V371.64H940.91V372.10ZM940.91 372.10V371.45H942.27V372.10Z" fill="#e4641f" fill-opacity="0.55"/>
<path d="M876.82 372.10V370.00M878.18 372.10V365.09M879.55 372.10V361.45M880.91 372.10V346.91M882.27 372.10V328.73M883.64 372.10V309.64M885.00 372.10V304.18M886.36 372.10V304.18M887.73 372.10V278.73M889.09 372.10V283.27M890.45 372.10V284.18M891.82 372.10V285.09M893.18 372.10V285.09M894.55 372.10V288.73M895.91 372.10V290.55M897.27 372.10V310.55M898.64 372.10V329.64M900.00 372.10V329.64M901.36 372.10V337.82M902.73 372.10V344.18M904.09 372.10V344.18M905.45 372.10V350.55M906.82 372.10V357.82M908.18 372.10V358.36M909.55 372.10V358.73M910.91 372.10V365.09M912.27 372.10V365.09M913.64 372.10V364.55M915.00 372.10V364.18M916.36 372.10V367.82M917.73 372.10V367.82M919.09 372.10V368.73M920.45 372.10V368.73M921.82 372.10V369.64M923.18 372.10V369.64M924.55 372.10V370.00M925.91 372.10V370.00M927.27 372.10V371.09" stroke="#e66101" stroke-opacity="0.09" stroke-width="0.7" fill="none"/>
<line x1="892.50" x2="892.50" y1="209.50" y2="372.10" stroke="#e66101" stroke-width="1.45"/>
</g>
<rect x="833.20" y="209.50" width="163.10" height="162.60" fill="none" stroke="#262626" stroke-width="0.9"/>
<path d="M873.98 372.10v3M914.75 372.10v3M955.53 372.10v3M833.20 372.10h-3M833.20 333.25h-3M833.20 294.40h-3M833.20 255.55h-3M833.20 216.70h-3" stroke="#262626" stroke-width="1" fill="none"/>
<text transform="translate(914.75 204.75)" font-size="12.15"><tspan x="-71.80" textLength="30.23" lengthAdjust="spacingAndGlyphs">team</tspan><tspan x="-37.15" textLength="7.91" lengthAdjust="spacingAndGlyphs">A</tspan><tspan x="-25.13" textLength="4.03" lengthAdjust="spacingAndGlyphs">-</tspan><tspan x="-16.69" textLength="44.08" lengthAdjust="spacingAndGlyphs">median</tspan><tspan x="31.81" textLength="9.75" lengthAdjust="spacingAndGlyphs">=</tspan><tspan x="45.98" textLength="25.82" lengthAdjust="spacingAndGlyphs">0.73</tspan></text>
<text x="873.98" y="389.10" font-size="14.0" text-anchor="middle" textLength="21.20" lengthAdjust="spacingAndGlyphs">0.5</text>
<text x="914.75" y="389.10" font-size="14.0" text-anchor="middle" textLength="21.20" lengthAdjust="spacingAndGlyphs">1.0</text>
<text x="955.53" y="389.10" font-size="14.0" text-anchor="middle" textLength="21.20" lengthAdjust="spacingAndGlyphs">1.5</text>
<text x="905.85" y="403.90" font-size="16.5" font-style="italic" textLength="9.4" lengthAdjust="spacingAndGlyphs">α</text>
<text x="915.65" y="407.10" font-size="11.2" textLength="7.0" lengthAdjust="spacingAndGlyphs">p</text>
</g>
<g id="pI">
<clipPath id="cI"><rect x="245.80" y="404.95" width="163.10" height="162.45"/></clipPath>
<g clip-path="url(#cI)">
<line x1="329.80" x2="329.80" y1="567.40" y2="404.95" stroke="#5c5c5c" stroke-width="1.3" stroke-dasharray="4.7 2.03" stroke-dashoffset="-0.2"/>
<path d="M245.65 567.40V512.12H252.68V567.40ZM252.68 567.40V514.08H265.88V567.40ZM265.88 567.40V496.94H278.81V567.40ZM278.81 567.40V485.98H292.02V567.40ZM292.02 567.40V473.62H305.22V567.40ZM305.22 567.40V479.80H318.15V567.40ZM318.15 567.40V475.03H331.36V567.40ZM331.36 567.40V490.20H344.28V567.40ZM344.28 567.40V467.72H357.49V567.40ZM357.49 567.40V485.98H370.41V567.40ZM370.41 567.40V498.63H383.62V567.40ZM383.62 567.40V507.90H396.83V567.40ZM396.83 567.40V528.13H409.47V567.40Z" fill="#e4641f" fill-opacity="0.55"/>
<path d="M252.68 567.40V514.08M265.88 567.40V514.08M278.81 567.40V496.94M292.02 567.40V485.98M305.22 567.40V479.80M318.15 567.40V479.80M331.36 567.40V490.20M344.28 567.40V490.20M357.49 567.40V485.98M370.41 567.40V498.63M383.62 567.40V507.90M396.83 567.40V528.13" stroke="#e66101" stroke-opacity="0.09" stroke-width="0.7" fill="none"/>
<line x1="319.30" x2="319.30" y1="404.95" y2="567.40" stroke="#e66101" stroke-width="1.45"/>
</g>
<rect x="245.80" y="404.95" width="163.10" height="162.45" fill="none" stroke="#262626" stroke-width="0.9"/>
<path d="M286.57 567.40v3M327.35 567.40v3M368.12 567.40v3M245.80 567.40h-3M245.80 528.55h-3M245.80 489.70h-3M245.80 450.85h-3M245.80 412.00h-3" stroke="#262626" stroke-width="1" fill="none"/>
<text transform="translate(327.35 399.65)" font-size="12.15"><tspan x="-65.64" textLength="30.23" lengthAdjust="spacingAndGlyphs">team</tspan><tspan x="-31.00" textLength="3.24" lengthAdjust="spacingAndGlyphs">I</tspan><tspan x="-23.65" textLength="4.03" lengthAdjust="spacingAndGlyphs">-</tspan><tspan x="-15.20" textLength="44.08" lengthAdjust="spacingAndGlyphs">median</tspan><tspan x="33.29" textLength="9.75" lengthAdjust="spacingAndGlyphs">=</tspan><tspan x="47.46" textLength="18.18" lengthAdjust="spacingAndGlyphs">0.9</tspan></text>
<text x="239.50" y="572.70" font-size="14.0" text-anchor="end" textLength="8.48" lengthAdjust="spacingAndGlyphs">0</text>
<text x="239.50" y="533.85" font-size="14.0" text-anchor="end" textLength="25.44" lengthAdjust="spacingAndGlyphs">100</text>
<text x="239.50" y="495.00" font-size="14.0" text-anchor="end" textLength="25.44" lengthAdjust="spacingAndGlyphs">200</text>
<text x="239.50" y="456.15" font-size="14.0" text-anchor="end" textLength="25.44" lengthAdjust="spacingAndGlyphs">300</text>
<text x="239.50" y="417.30" font-size="14.0" text-anchor="end" textLength="25.44" lengthAdjust="spacingAndGlyphs">400</text>
<text transform="translate(207.90 486.07) rotate(-90)" font-size="15.7"><tspan x="-86.03" textLength="60.56" lengthAdjust="spacingAndGlyphs">Number</tspan><tspan x="-19.71" textLength="13.85" lengthAdjust="spacingAndGlyphs">of</tspan><tspan x="-0.10" textLength="86.13" lengthAdjust="spacingAndGlyphs">trajectories</tspan></text>
<text x="286.57" y="584.40" font-size="14.0" text-anchor="middle" textLength="21.20" lengthAdjust="spacingAndGlyphs">0.5</text>
<text x="327.35" y="584.40" font-size="14.0" text-anchor="middle" textLength="21.20" lengthAdjust="spacingAndGlyphs">1.0</text>
<text x="368.12" y="584.40" font-size="14.0" text-anchor="middle" textLength="21.20" lengthAdjust="spacingAndGlyphs">1.5</text>
<text x="318.45" y="599.20" font-size="16.5" font-style="italic" textLength="9.4" lengthAdjust="spacingAndGlyphs">α</text>
<text x="328.25" y="602.40" font-size="11.2" textLength="7.0" lengthAdjust="spacingAndGlyphs">p</text>
</g>
<g id="pD">
<clipPath id="cD"><rect x="441.60" y="404.95" width="163.10" height="162.45"/></clipPath>
<g clip-path="url(#cD)">
<line x1="525.60" x2="525.60" y1="567.40" y2="404.95" stroke="#5c5c5c" stroke-width="1.3" stroke-dasharray="4.7 2.03" stroke-dashoffset="-0.2"/>
<path d="M520.00 567.40V566.26H521.03V567.40ZM521.03 567.40V566.13H522.06V567.40ZM522.06 567.40V566.14H523.09V567.40ZM523.09 567.40V565.95H524.12V567.40ZM524.12 567.40V565.93H525.15V567.40ZM525.15 567.40V565.87H526.18V567.40ZM526.18 567.40V565.58H527.21V567.40ZM527.21 567.40V565.52H528.24V567.40ZM528.24 567.40V565.20H529.27V567.40ZM529.27 567.40V564.86H530.30V567.40ZM530.30 567.40V564.68H531.33V567.40ZM531.33 567.40V564.08H532.36V567.40ZM532.36 567.40V563.67H533.39V567.40ZM533.39 567.40V562.98H534.42V567.40ZM534.42 567.40V562.09H535.45V567.40ZM535.45 567.40V561.97H536.48V567.40ZM536.48 567.40V560.26H537.51V567.40ZM537.51 567.40V559.16H538.54V567.40ZM538.54 567.40V558.18H539.57V567.40ZM539.57 567.40V555.94H540.60V567.40ZM540.60 567.40V555.34H541.63V567.40ZM541.63 567.40V550.88H542.66V567.40ZM542.66 567.40V550.49H543.69V567.40ZM543.69 567.40V553.49H544.72V567.40ZM544.72 567.40V549.78H545.75V567.40ZM545.75 567.40V548.61H546.78V567.40ZM546.78 567.40V546.73H547.81V567.40ZM547.81 567.40V542.19H548.84V567.40ZM548.84 567.40V540.01H549.87V567.40ZM549.87 567.40V530.16H550.90V567.40ZM550.90 567.40V514.78H551.93V567.40ZM551.93 567.40V505.25H552.96V567.40ZM552.96 567.40V489.40H553.99V567.40ZM553.99 567.40V488.10H555.02V567.40ZM555.02 567.40V481.22H556.05V567.40ZM556.05 567.40V473.96H557.08V567.40ZM557.08 567.40V477.63H558.11V567.40ZM558.11 567.40V470.93H559.14V567.40ZM559.14 567.40V477.60H560.17V567.40ZM560.17 567.40V480.45H561.20V567.40ZM561.20 567.40V484.02H562.23V567.40ZM562.23 567.40V506.67H563.26V567.40ZM563.26 567.40V511.95H564.29V567.40ZM564.29 567.40V523.82H565.32V567.40ZM565.32 567.40V537.32H566.35V567.40ZM566.35 567.40V544.77H567.38V567.40ZM567.38 567.40V553.28H568.41V567.40ZM568.41 567.40V557.90H569.44V567.40ZM569.44 567.40V561.12H570.47V567.40ZM570.47 567.40V564.58H571.50V567.40ZM571.50 567.40V566.49H572.53V567.40Z" fill="#e4641f" fill-opacity="0.55"/>
<rect x="474.2" y="563.0" width="2.3000000000000114" height="4.40" fill="#e4641f" fill-opacity="0.55"/>
<rect x="476.5" y="566.95" width="43.5" height="0.45" fill="#e4641f" fill-opacity="0.55"/>
<line x1="556.80" x2="556.80" y1="404.95" y2="567.40" stroke="#e66101" stroke-width="1.45"/>
</g>
<rect x="441.60" y="404.95" width="163.10" height="162.45" fill="none" stroke="#262626" stroke-width="0.9"/>
<path d="M482.38 567.40v3M523.15 567.40v3M563.92 567.40v3M441.60 567.40h-3M441.60 528.55h-3M441.60 489.70h-3M441.60 450.85h-3M441.60 412.00h-3" stroke="#262626" stroke-width="1" fill="none"/>
<text transform="translate(523.15 399.65)" font-size="12.15"><tspan x="-72.31" textLength="30.23" lengthAdjust="spacingAndGlyphs">team</tspan><tspan x="-37.67" textLength="8.94" lengthAdjust="spacingAndGlyphs">D</tspan><tspan x="-24.61" textLength="4.03" lengthAdjust="spacingAndGlyphs">-</tspan><tspan x="-16.17" textLength="44.08" lengthAdjust="spacingAndGlyphs">median</tspan><tspan x="32.33" textLength="9.75" lengthAdjust="spacingAndGlyphs">=</tspan><tspan x="46.50" textLength="25.82" lengthAdjust="spacingAndGlyphs">1.41</tspan></text>
<text x="482.38" y="584.40" font-size="14.0" text-anchor="middle" textLength="21.20" lengthAdjust="spacingAndGlyphs">0.5</text>
<text x="523.15" y="584.40" font-size="14.0" text-anchor="middle" textLength="21.20" lengthAdjust="spacingAndGlyphs">1.0</text>
<text x="563.92" y="584.40" font-size="14.0" text-anchor="middle" textLength="21.20" lengthAdjust="spacingAndGlyphs">1.5</text>
<text x="514.25" y="599.20" font-size="16.5" font-style="italic" textLength="9.4" lengthAdjust="spacingAndGlyphs">α</text>
<text x="524.05" y="602.40" font-size="11.2" textLength="7.0" lengthAdjust="spacingAndGlyphs">p</text>
</g>
<g id="pK">
<clipPath id="cK"><rect x="637.40" y="404.95" width="163.10" height="162.45"/></clipPath>
<g clip-path="url(#cK)">
<line x1="721.40" x2="721.40" y1="567.40" y2="404.95" stroke="#5c5c5c" stroke-width="1.3" stroke-dasharray="4.7 2.03" stroke-dashoffset="-0.2"/>
<path d="M668.28 567.40V560.17H672.78V567.40ZM672.78 567.40V563.82H677.27V567.40ZM677.27 567.40V565.51H681.77V567.40ZM686.83 567.40V400.00H691.60V567.40ZM696.38 567.40V566.07H700.88V567.40ZM705.65 567.40V477.84H710.43V567.40Z" fill="#e4641f" fill-opacity="0.55"/>
<path d="M672.78 567.40V563.82M677.27 567.40V565.51" stroke="#e66101" stroke-opacity="0.09" stroke-width="0.7" fill="none"/>
<line x1="688.00" x2="688.00" y1="404.95" y2="567.40" stroke="#e66101" stroke-width="1.45"/>
</g>
<rect x="637.40" y="404.95" width="163.10" height="162.45" fill="none" stroke="#262626" stroke-width="0.9"/>
<path d="M678.18 567.40v3M718.95 567.40v3M759.73 567.40v3M637.40 567.40h-3M637.40 528.55h-3M637.40 489.70h-3M637.40 450.85h-3M637.40 412.00h-3" stroke="#262626" stroke-width="1" fill="none"/>
<text transform="translate(718.95 399.65)" font-size="12.15"><tspan x="-71.63" textLength="30.23" lengthAdjust="spacingAndGlyphs">team</tspan><tspan x="-36.98" textLength="7.57" lengthAdjust="spacingAndGlyphs">K</tspan><tspan x="-25.30" textLength="4.03" lengthAdjust="spacingAndGlyphs">-</tspan><tspan x="-16.86" textLength="44.08" lengthAdjust="spacingAndGlyphs">median</tspan><tspan x="31.64" textLength="9.75" lengthAdjust="spacingAndGlyphs">=</tspan><tspan x="45.81" textLength="25.82" lengthAdjust="spacingAndGlyphs">0.62</tspan></text>
<text x="678.18" y="584.40" font-size="14.0" text-anchor="middle" textLength="21.20" lengthAdjust="spacingAndGlyphs">0.5</text>
<text x="718.95" y="584.40" font-size="14.0" text-anchor="middle" textLength="21.20" lengthAdjust="spacingAndGlyphs">1.0</text>
<text x="759.73" y="584.40" font-size="14.0" text-anchor="middle" textLength="21.20" lengthAdjust="spacingAndGlyphs">1.5</text>
<text x="710.05" y="599.20" font-size="16.5" font-style="italic" textLength="9.4" lengthAdjust="spacingAndGlyphs">α</text>
<text x="719.85" y="602.40" font-size="11.2" textLength="7.0" lengthAdjust="spacingAndGlyphs">p</text>
</g>
</svg>
</body></html>
